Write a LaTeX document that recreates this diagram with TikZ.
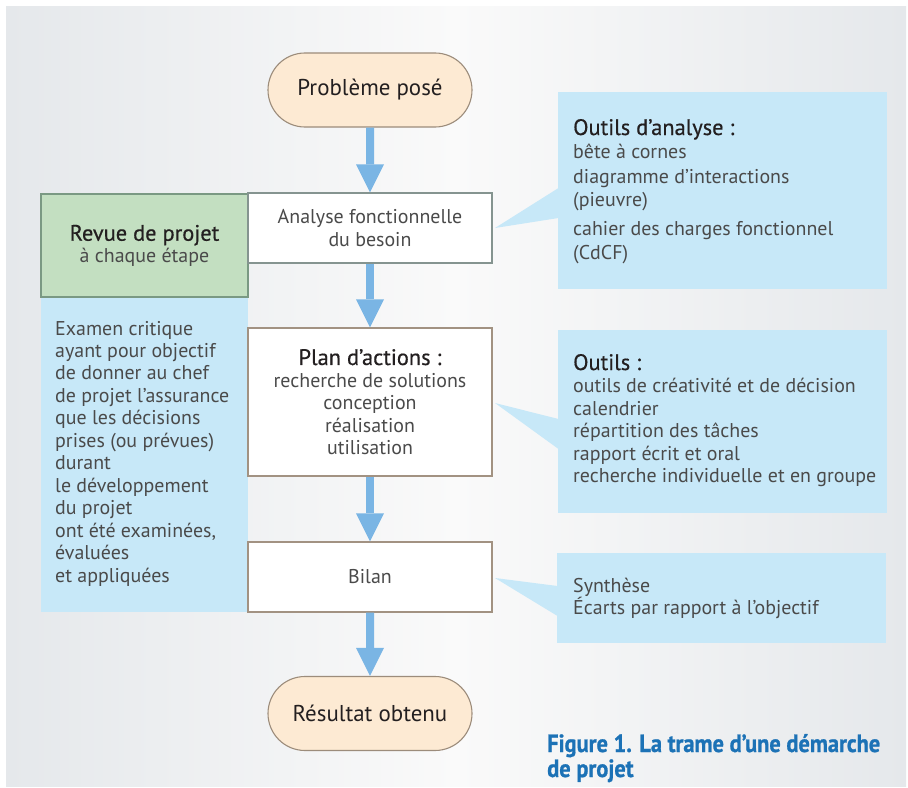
\documentclass[tikz,border=0pt]{standalone}
\usepackage{fontspec}
\setmainfont{PT Sans}
\newfontfamily\semib[FakeBold=0.5]{PT Sans}
\newfontfamily\capfont[FakeStretch=0.9,FakeBold=0.9]{PT Sans}
\usetikzlibrary{arrows.meta,shapes.misc}
\definecolor{bgedge}{HTML}{E5E8EB}
\definecolor{bgmid}{HTML}{FAFAFA}
\definecolor{callfill}{HTML}{C7E8F8}
\definecolor{greenfill}{HTML}{C3DFC1}
\definecolor{greendraw}{HTML}{7A9983}
\definecolor{termfill}{HTML}{FDEAD3}
\definecolor{termdraw}{HTML}{9C8C7B}
\definecolor{boxdrawA}{HTML}{859490}
\definecolor{boxdrawB}{HTML}{A29282}
\definecolor{arrowblue}{HTML}{7AB5E4}
\definecolor{txt}{HTML}{4A4A4A}
\definecolor{head}{HTML}{231F20}
\definecolor{capblue}{HTML}{1C72B6}
\newcommand{\hd}{\semib\fontsize{22.5}{22.5}\selectfont\color{head}}
\begin{document}
\begin{tikzpicture}[x=1bp,y=-1bp,
  body/.style={font=\fontsize{20}{22.5}\selectfont, text=txt, inner sep=0pt, anchor=base west},
  term/.style={rounded rectangle, draw=termdraw, fill=termfill, line width=1.1bp,
     minimum width=204bp, minimum height=74bp, inner sep=0pt,
     font=\fontsize{23}{26}\selectfont, text=head},
  stepbox/.style={rectangle, draw=boxdrawB, fill=white, line width=1.1bp,
     minimum width=244bp, inner sep=0pt, align=center,
     font=\fontsize{20}{22.5}\selectfont, text=txt},
  callout/.style={rectangle, fill=callfill, inner sep=0pt},
  flow/.style={draw=arrowblue, line width=8bp,
     -{Triangle[width=28bp,length=28bp,line width=0pt]}},
]
\useasboundingbox (0,0) rectangle (908,788);
\fill[white] (0,0) rectangle (908,788);
\shade[left color=bgedge, right color=bgedge, middle color=bgmid] (6,7) rectangle (906,786);

% left column
\node[callout, minimum width=207bp, minimum height=316bp] (L) at (144.5,454) {};
\node[rectangle, draw=greendraw, fill=greenfill, line width=1.1bp,
      minimum width=207bp, minimum height=103bp, inner sep=0pt, align=center,
      font=\fontsize{20}{21.5}\selectfont, text=txt] (G) at (144.5,245.5)
      {{\hd Revue de projet}\\à chaque étape};

% main boxes
\node[term] (P) at (370,90) {Problème posé};
\node[stepbox, draw=boxdrawA, minimum height=70bp] (A) at (370,228)
   {Analyse fonctionnelle\\du besoin};
\node[stepbox, minimum height=148bp] (Pl) at (370,402)
   {{\hd Plan d’actions :}\\recherche de solutions\\conception\\réalisation\\utilisation};
\node[stepbox, minimum height=70bp] (B) at (370,577) {Bilan};
\node[term] (R) at (370,713.5) {Résultat obtenu};

\draw[flow] (P) -- (A);
\draw[flow] (A) -- (Pl);
\draw[flow] (Pl) -- (B);
\draw[flow] (B) -- (R);

% callouts
\coordinate (t1) at (495,228);
\coordinate (t2) at (495,403);
\coordinate (t3) at (495,578);
\fill[callfill] (t1) -- (558.5,188) -- (558.5,218) -- cycle;
\fill[callfill] (t2) -- (558.5,419) -- (558.5,449) -- cycle;
\fill[callfill] (t3) -- (557.5,586) -- (557.5,616) -- cycle;
\node[callout, minimum width=329bp, minimum height=197bp] (C1) at (722.5,190.5) {};
\node[callout, minimum width=329bp, minimum height=183bp] (C2) at (722.5,421.5) {};
\node[callout, minimum width=329bp, minimum height=90bp] (C3) at (721.5,598) {};

\node[body] (c1a) at (573,135) {\hd Outils d’analyse :};
\node[body] (c1b) at (573,158) {bête à cornes};
\node[body] (c1c) at (573,183) {diagramme d’interactions};
\node[body] (c1d) at (573,206) {(pieuvre)};
\node[body] (c1e) at (573,235) {cahier des charges fonctionnel};
\node[body] (c1f) at (573,259) {(CdCF)};

\node[body] (c2a) at (573,370) {\hd Outils :};
\node[body] (c2b) at (573,392.5) {outils de créativité et de décision};
\node[body] (c2c) at (573,415) {calendrier};
\node[body] (c2d) at (573,437.5) {répartition des tâches};
\node[body] (c2e) at (573,460) {rapport écrit et oral};
\node[body] (c2f) at (573,482.5) {recherche individuelle et en groupe};

\node[body] (c3a) at (573,592) {Synthèse};
\node[body] (c3b) at (573,614) {Écarts par rapport à l’objectif};

% left column text
\node[body] (l1) at (55,335) {Examen critique};
\node[body] (l2) at (55,357.45) {ayant pour objectif};
\node[body] (l3) at (55,379.9) {de donner au chef};
\node[body] (l4) at (55,402.35) {de projet l’assurance};
\node[body] (l5) at (55,424.8) {que les décisions};
\node[body] (l6) at (55,447.25) {prises (ou prévues)};
\node[body] (l7) at (55,469.7) {durant};
\node[body] (l8) at (55,492.15) {le développement};
\node[body] (l9) at (55,514.6) {du projet};
\node[body] (l10) at (55,537.05) {ont été examinées,};
\node[body] (l11) at (55,559.5) {évaluées};
\node[body] (l12) at (55,582) {et appliquées};

% caption
\node[anchor=base west, inner sep=0pt, text=capblue,
      font=\capfont\bfseries\fontsize{25}{27}\selectfont] (cap1) at (547,752)
      {Figure 1. La trame d’une démarche};
\node[anchor=base west, inner sep=0pt, text=capblue,
      font=\capfont\bfseries\fontsize{25}{27}\selectfont] (cap2) at (547,777)
      {de projet};
\end{tikzpicture}
\end{document}
